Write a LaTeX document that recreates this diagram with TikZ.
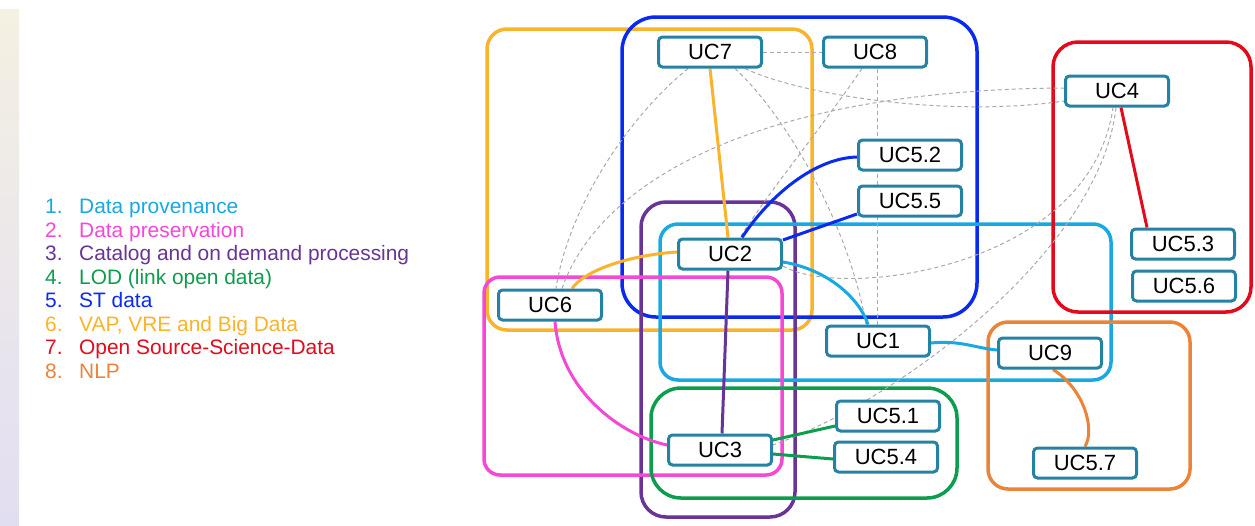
\documentclass[tikz,border=0pt]{standalone}
\usepackage{fontspec}
\setmainfont{Liberation Sans}

\definecolor{cProv}{RGB}{25,168,226}
\definecolor{cPres}{RGB}{246,72,214}
\definecolor{cCat}{RGB}{104,52,150}
\definecolor{cLod}{RGB}{12,158,78}
\definecolor{cSt}{RGB}{10,42,240}
\definecolor{cVap}{RGB}{250,180,44}
\definecolor{cOss}{RGB}{228,10,28}
\definecolor{cNlp}{RGB}{234,132,56}
\definecolor{ucEdge}{RGB}{38,130,162}
\definecolor{linkGray}{RGB}{170,170,170}
\definecolor{stripTop}{RGB}{244,240,226}
\definecolor{stripBot}{RGB}{226,222,242}

\pgfdeclarelayer{back}
\pgfsetlayers{back,main}

\begin{document}
\begin{tikzpicture}[x=1pt,y=-1pt,
  uc/.style={draw=ucEdge, line width=3pt, fill=white, rounded corners=4pt,
    minimum width=103pt, minimum height=30pt, inner sep=0pt,
    font=\fontsize{22}{25}\selectfont, text height=15.6pt, text depth=0pt},
  grp/.style={line width=3.5pt},
  weak/.style={draw=linkGray, line width=1pt, dash pattern=on 4pt off 3pt},
  link/.style={line width=3pt},
  leg/.style={anchor=base west, inner sep=0pt, font=\fontsize{20.9}{24}\selectfont}]

% use cases (front layer)
\node[uc] (uc7)  at (710,52)   {UC7};
\node[uc] (uc8)  at (875,52)   {UC8};
\node[uc] (uc4)  at (1117,91)  {UC4};
\node[uc] (uc52) at (910,155)  {UC5.2};
\node[uc] (uc55) at (910,201)  {UC5.5};
\node[uc] (uc2)  at (730,254)  {UC2};
\node[uc] (uc6)  at (550,305)  {UC6};
\node[uc] (uc1)  at (878,341)  {UC1};
\node[uc] (uc9)  at (1050,353) {UC9};
\node[uc] (uc53) at (1183,244) {UC5.3};
\node[uc] (uc56) at (1184,286) {UC5.6};
\node[uc] (uc51) at (888,416)  {UC5.1};
\node[uc] (uc54) at (886,457)  {UC5.4};
\node[uc] (uc3)  at (720,450)  {UC3};
\node[uc] (uc57) at (1085,463) {UC5.7};

% legend
\foreach \k/\c/\t/\yy in {1/cProv/Data provenance/213,
                         2/cPres/Data preservation/237,
                         3/cCat/Catalog and on demand processing/260,
                         4/cLod/LOD (link open data)/284,
                         5/cSt/ST data/307,
                         6/cVap/{VAP, VRE and Big Data}/331,
                         7/cOss/Open Source-Science-Data/354,
                         8/cNlp/NLP/378}{
  \node[leg, text=\c] (num\k) at (45,\yy) {\k.};
  \node[leg, text=\c] (lab\k) at (79,\yy) {\t};
}

\begin{pgfonlayer}{back}
% page and left strip
\fill[white] (0,0) rectangle (1255,525);
\shade[top color=stripTop, bottom color=stripBot] (0,9) rectangle (19,525);

% thematic groups
\draw[grp, cVap, rounded corners=20pt] (487,29) rectangle (812,330);
\draw[grp, cSt, rounded corners=34pt] (622,17) rectangle (977,317);
\draw[grp, cCat, rounded corners=25pt] (641,202) rectangle (795,517);
\draw[grp, cProv, rounded corners=18pt] (660,224) rectangle (1111,380);
\draw[grp, cPres, rounded corners=16pt] (484,277) rectangle (782,475);
\draw[grp, cLod, rounded corners=30pt] (651,388) rectangle (957,498);
\draw[grp, cOss, rounded corners=25pt] (1053,42) rectangle (1251,312);
\draw[grp, cNlp, rounded corners=20pt] (988,322) rectangle (1190,489);

% weak (dashed) relations
\draw[weak] (uc7.east) -- (uc8.west);
\draw[weak] ([xshift=-22pt]uc7.south) .. controls (625,120) and (568,210) .. ([xshift=6pt]uc6.north);
\draw[weak] ([xshift=12pt]uc6.north) .. controls (600,180) and (760,90) .. ([yshift=3pt]uc4.west);
\draw[weak] ([xshift=35pt]uc7.south) .. controls (800,95) and (950,118) .. ([yshift=-10pt]uc4.west);
\draw[weak] ([xshift=25pt]uc7.south) .. controls (790,120) and (850,230) .. ([xshift=-12pt]uc1.north);
\draw[weak] ([xshift=2pt]uc8.south) -- ([xshift=-1pt]uc1.north);
\draw[weak] ([xshift=-13pt]uc8.south) .. controls (820,130) and (770,190) .. ([xshift=10pt]uc2.north);
\draw[weak] ([yshift=-12pt]uc2.east) .. controls (840,300) and (1090,270) .. ([xshift=-4pt]uc4.south);
\draw[weak] ([xshift=-1pt]uc4.south) .. controls (1100,250) and (900,400) .. ([yshift=5pt]uc3.east);

% strong relations
\draw[link, cVap] (uc7.south) -- ([xshift=-2pt]uc2.north);
\draw[link, cSt] ([xshift=12pt]uc2.north) .. controls (770,195) and (815,158) .. ([yshift=-2pt]uc52.west);
\draw[link, cSt] ([yshift=14pt]uc2.east) -- ([yshift=-13pt]uc55.west);
\draw[link, cProv] ([yshift=-8pt]uc2.east) .. controls (830,270) and (860,300) .. ([xshift=-10pt]uc1.north);
\draw[link, cVap] ([yshift=2pt]uc2.west) .. controls (630,255) and (585,270) .. ([xshift=22pt]uc6.north);
\draw[link, cCat] ([xshift=-2pt]uc2.south) -- ([xshift=2pt]uc3.north);
\draw[link, cPres] ([xshift=5pt]uc6.south) .. controls (560,390) and (620,435) .. ([yshift=5pt]uc3.west);
\draw[link, cLod] ([yshift=10pt]uc3.east) -- ([yshift=-10pt]uc51.west);
\draw[link, cLod] ([yshift=-4pt]uc3.east) -- ([yshift=-2pt]uc54.west);
\draw[link, cProv] ([yshift=-2pt]uc1.east) .. controls (960,340) and (975,348) .. ([yshift=3pt]uc9.west);
\draw[link, cNlp] ([xshift=3pt]uc9.south) .. controls (1085,390) and (1095,430) .. (uc57.north);
\draw[link, cOss] ([xshift=4pt]uc4.south) -- ([xshift=-36pt]uc53.north);
\end{pgfonlayer}

\useasboundingbox (0,0) rectangle (1255,525);
\end{tikzpicture}
\end{document}
